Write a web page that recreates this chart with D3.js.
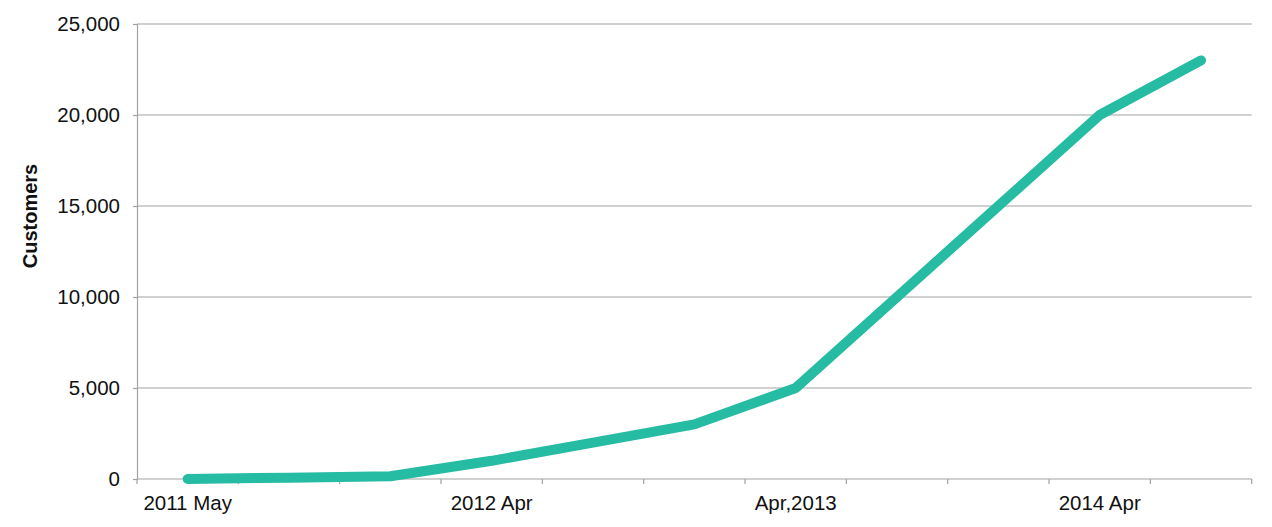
<!DOCTYPE html>
<html>
<head>
<meta charset="utf-8">
<script src="https://cdn.jsdelivr.net/npm/d3@7"></script>
<style>
html,body{margin:0;padding:0;background:#fff;}
svg{display:block;}
text{font-family:"Liberation Sans",Arial,Helvetica,sans-serif;fill:#111;}
</style>
</head>
<body>
<svg id="chart" width="1272" height="527"></svg>
<script>
const categories = ["2011 May","m2","m3","2012 Apr","m5","m6","Apr,2013","m8","m9","2014 Apr","m11"];
const categoryLabels = ["2011 May","","","2012 Apr","","","Apr,2013","","","2014 Apr",""];
const customers = [0, 75, 150, 1000, 2000, 3000, 5000, 10000, 15000, 20000, 23000];
const yTicks = [0, 5000, 10000, 15000, 20000, 25000];
const yTitle = "Customers";

const svg = d3.select("#chart");
const margin = {left: 137, right: 20, top: 24, bottom: 48};
const x = d3.scaleBand().domain(categories).range([margin.left, 1251.7]).padding(0);
const y = d3.scaleLinear().domain([0, 25000]).range([479, margin.top]);

const gridColor = "#a2a2a2";

// gridlines
svg.append("g").selectAll("line").data(yTicks).join("line")
  .attr("x1", margin.left).attr("x2", 1251.7)
  .attr("y1", d => y(d)).attr("y2", d => y(d))
  .attr("stroke", gridColor).attr("stroke-width", 1.2);

// y axis
const yAxis = svg.append("g").attr("transform", `translate(${margin.left},0)`)
  .call(d3.axisLeft(y).tickValues(yTicks).tickSize(4).tickPadding(13).tickFormat(d3.format(",")));
yAxis.select(".domain").attr("stroke", gridColor).attr("stroke-width", 1.2);
yAxis.selectAll(".tick line").attr("stroke", gridColor).attr("stroke-width", 1.2);
yAxis.selectAll("text").style("font-size", "20.5px").attr("fill", "#111");

// x axis: ticks at band boundaries
const boundaries = categories.map(c => x(c)).concat([x(categories[categories.length-1]) + x.bandwidth()]);
const xg = svg.append("g");
xg.selectAll("line.tk").data(boundaries).join("line").attr("class","tk")
  .attr("x1", d => d).attr("x2", d => d).attr("y1", 479).attr("y2", 484)
  .attr("stroke", gridColor).attr("stroke-width", 1.2);
xg.selectAll("text").data(categories).join("text")
  .attr("x", d => x(d) + x.bandwidth()/2)
  .attr("y", 510)
  .attr("text-anchor", "middle")
  .style("font-size", "20.5px")
  .text((d, i) => categoryLabels[i]);

// y title
svg.append("text")
  .attr("transform", `translate(37,216) rotate(-90)`)
  .attr("text-anchor", "middle")
  .style("font-size", "20px").style("font-weight", "bold")
  .text(yTitle);

// line
const line = d3.line()
  .x((d, i) => x(categories[i]) + x.bandwidth()/2)
  .y(d => y(d));
svg.append("path").datum(customers)
  .attr("d", line)
  .attr("fill", "none")
  .attr("stroke", "#26BBA3")
  .attr("stroke-width", 10)
  .attr("stroke-linecap", "round")
  .attr("stroke-linejoin", "round");
</script>
</body>
</html>
